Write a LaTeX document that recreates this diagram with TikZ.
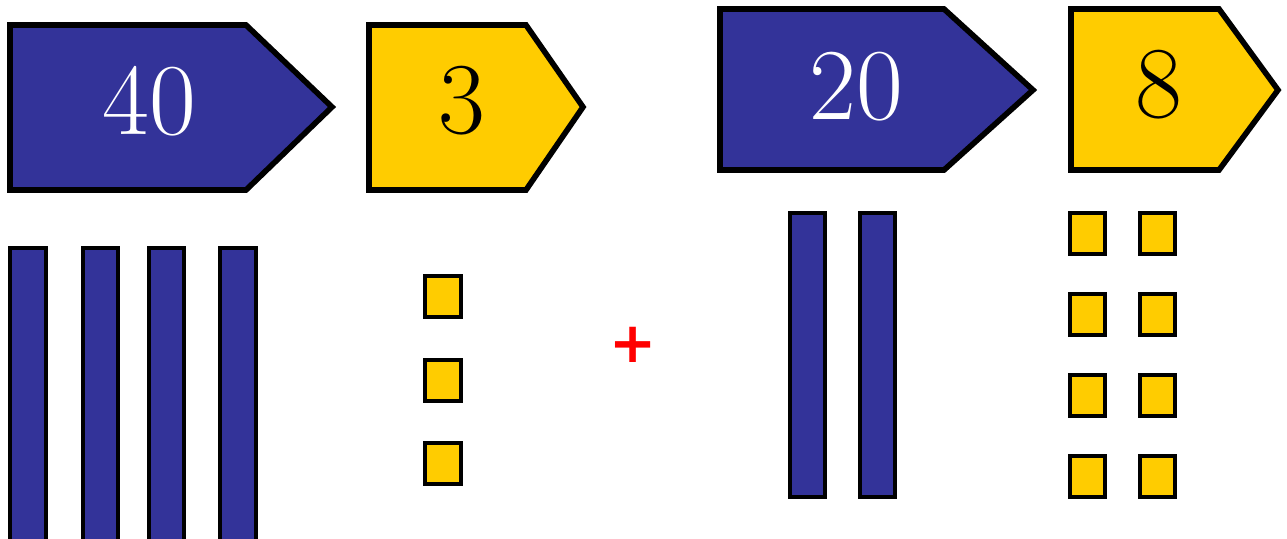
\documentclass[tikz,border=0pt]{standalone}
\usepackage{fontspec}
\newfontfamily\plusfont{DejaVu Sans}
\definecolor{tenblue}{HTML}{333399}
\definecolor{oneyellow}{HTML}{FFCC00}
\tikzset{
  tencard/.style={draw=black,fill=tenblue,line width=3.2pt},
  onecard/.style={draw=black,fill=oneyellow,line width=3.2pt},
  tenrod/.style={draw=black,fill=tenblue,line width=2.5pt},
  unitcube/.style={draw=black,fill=oneyellow,line width=2.5pt},
  numlabel/.style={font=\fontsize{58}{60}\selectfont}
}

\begin{document}
\begin{tikzpicture}[x=0.02cm,y=-0.02cm]
                    \clip (0,0) rectangle (1287,538);
                    % first number: 40 + 3
                    \draw[tencard] (10,25) -- (246,25) -- (332,107) -- (246,190) -- (10,190) -- cycle;
                    \draw[onecard] (369,25) -- (526,25) -- (583,107) -- (526,190) -- (369,190) -- cycle;
                    \node[numlabel,text=white] (forty) at (149,101) {40};
                    \node[numlabel,text=black] (three) at (462,101) {3};

                    \draw[tenrod] (10,248) rectangle (46,545);
                    \draw[tenrod] (83,248) rectangle (118,545);
                    \draw[tenrod] (149,248) rectangle (184,545);
                    \draw[tenrod] (220,248) rectangle (256,545);
                    \draw[unitcube] (425,276) rectangle (461,317);
                    \draw[unitcube] (425,360) rectangle (461,401);
                    \draw[unitcube] (425,443) rectangle (461,484);

                    \node[text=red,font=\plusfont\bfseries\fontsize{32}{34}\selectfont] (plus) at (633,345) {+};

                    % second number: 20 + 8
                    \draw[tencard] (720,9) -- (944,9) -- (1033,90) -- (944,170) -- (720,170) -- cycle;
                    \draw[onecard] (1071,9) -- (1219,9) -- (1278,90) -- (1219,170) -- (1071,170) -- cycle;
                    \node[numlabel,text=white] (twenty) at (856,87) {20};
                    \node[numlabel,text=black] (eight) at (1159,85) {8};

                    \draw[tenrod] (790,213) rectangle (825,497);
                    \draw[tenrod] (860,213) rectangle (895,497);
                    \draw[unitcube] (1070,213) rectangle (1105,254);
                    \draw[unitcube] (1140,213) rectangle (1175,254);
                    \draw[unitcube] (1070,294) rectangle (1105,335);
                    \draw[unitcube] (1140,294) rectangle (1175,335);
                    \draw[unitcube] (1070,375) rectangle (1105,416);
                    \draw[unitcube] (1140,375) rectangle (1175,416);
                    \draw[unitcube] (1070,456) rectangle (1105,497);
                    \draw[unitcube] (1140,456) rectangle (1175,497);
\end{tikzpicture}
\end{document}
